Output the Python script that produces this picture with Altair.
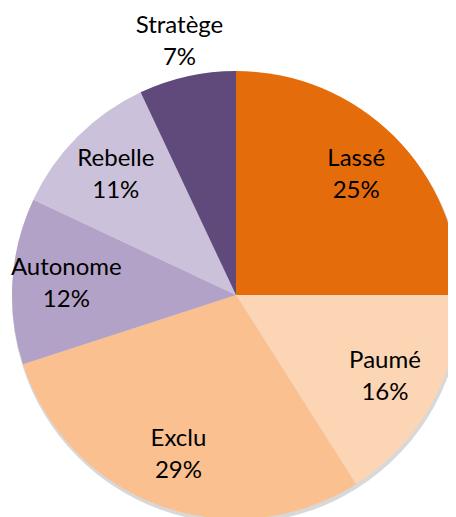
import altair as alt
import pandas as pd

categories = ["Lassé", "Paumé", "Exclu", "Autonome", "Rebelle", "Stratège"]
shares = [25, 16, 29, 12, 11, 7]
colors = ["#E46C0A", "#FCD5B5", "#FAC090", "#B3A2C7", "#CCC1DA", "#604A7B"]
outside_label = "Stratège"

df = pd.DataFrame({"cat": categories, "pct": shares, "idx": list(range(len(categories)))})

CX, CY, R = 228, 287, 224

base = alt.Chart(df).transform_calculate(
    label="datum.cat + '\\n' + datum.pct + '%'"
).encode(
    theta=alt.Theta("pct:Q", stack=True),
    order=alt.Order("idx:Q"),
)

shadow = base.mark_arc(radius=R + 1, color="#7f7f7f", opacity=0.3).encode(
    x=alt.value(CX + 1), y=alt.value(CY + 3)
)

pie = base.mark_arc(radius=R).encode(
    x=alt.value(CX), y=alt.value(CY),
    color=alt.Color("cat:N", scale=alt.Scale(domain=categories, range=colors), legend=None),
)

txt_style = dict(font="Lato", fontSize=24, lineBreak="\n", lineHeight=32,
                 color="#000000", align="center", baseline="middle", dy=-16)

inside = base.mark_text(radius=170, **txt_style).encode(
    x=alt.value(CX), y=alt.value(CY),
    text=alt.Text("tin:N"),
).transform_calculate(
    tin=f"datum.cat == '{outside_label}' ? '' : datum.label"
)

outside = base.mark_text(radius=259, **txt_style).encode(
    x=alt.value(CX), y=alt.value(CY),
    text=alt.Text("tout:N"),
).transform_calculate(
    tout=f"datum.cat == '{outside_label}' ? datum.label : ''"
)

chart = alt.layer(shadow, pie, inside, outside).properties(
    width=440, height=509, autosize="none", padding=0
).configure_view(stroke=None)

chart.save("out.html", embed_options={"renderer": "svg", "actions": False})
